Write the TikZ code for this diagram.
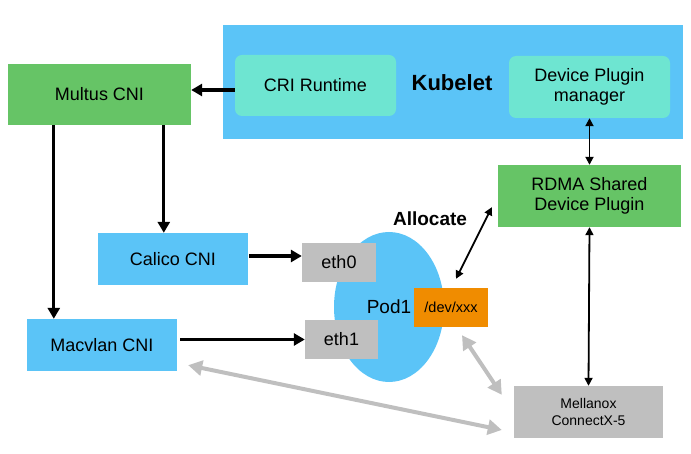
\documentclass[tikz,border=0pt]{standalone}
\usepackage{fontspec}
\setmainfont{Liberation Sans}
\usetikzlibrary{arrows.meta, calc, shapes.geometric}

\definecolor{kubeblue}{HTML}{5BC4F7}
\definecolor{kubeteal}{HTML}{6EE5D1}
\definecolor{cnigreen}{HTML}{66C466}
\definecolor{nicgray}{HTML}{BFBFBF}
\definecolor{devorange}{HTML}{F08C00}

\begin{document}
\begin{tikzpicture}[
        x=1pt, y=-1pt,
        box/.style={rectangle, inner sep=0pt, align=center, font=\fontsize{18}{20}\selectfont},
        flow/.style={line width=3.2pt, -{Triangle[length=11pt, width=12pt]}},
        link/.style={line width=1.8pt, {Triangle[length=8pt, width=8pt]}-{Triangle[length=8pt, width=8pt]}},
        hw/.style={line width=4pt, draw=nicgray, {Triangle[length=14pt, width=15pt]}-{Triangle[length=14pt, width=15pt]}},
    ]

    \useasboundingbox (0, 0) rectangle (691, 454);

    % kubelet and its parts
    \node[box, fill=kubeblue, minimum width=460pt, minimum height=114pt] (kubelet) at (453, 82) {};
    \node[box, fill=kubeteal, rounded corners=7pt, minimum width=161pt, minimum height=61pt] (cri) at (315.5, 85.5) {CRI Runtime};
    \node[box, fill=kubeteal, rounded corners=7pt, minimum width=161pt, minimum height=62pt] (dpm) at (589.5, 87) {Device Plugin\\manager};
    \node[font=\fontsize{22}{24}\selectfont\bfseries] (kubeletlabel) at (452, 83) {Kubelet};

    % cni plugins
    \node[box, fill=cnigreen, minimum width=183pt, minimum height=61pt] (multus) at (99.5, 94.5) {Multus CNI};
    \node[box, fill=kubeblue, minimum width=150pt, minimum height=52pt] (calico) at (173, 259) {Calico CNI};
    \node[box, fill=kubeblue, minimum width=150pt, minimum height=52pt] (macvlan) at (102, 345) {Macvlan CNI};

    % pod
    \node[ellipse, fill=kubeblue, inner sep=0pt, minimum width=110pt, minimum height=150pt,
        font=\fontsize{19}{20}\selectfont] (pod1) at (389, 307) {Pod1};
    \node[box, fill=nicgray, minimum width=74pt, minimum height=39pt] (eth0) at (339, 262.5) {eth0};
    \node[box, fill=nicgray, minimum width=73pt, minimum height=39pt] (eth1) at (341.5, 339.5) {eth1};
    \node[box, fill=devorange, minimum width=74pt, minimum height=39pt, font=\fontsize{14.5}{16}\selectfont] (dev) at (451, 307.5) {/dev/xxx};
    \node[font=\fontsize{19}{20}\selectfont\bfseries] (allocate) at (430, 219) {Allocate};

    % device plugin and nic
    \node[box, fill=cnigreen, minimum width=183pt, minimum height=62pt] (rdma) at (589.5, 196) {RDMA Shared\\Device Plugin};
    \node[box, fill=nicgray, minimum width=149pt, minimum height=52pt, font=\fontsize{14}{16.5}\selectfont] (nic) at (588.5, 412) {Mellanox\\ConnectX-5};

    \draw[flow] ([yshift=-4.5pt]cri.west) -- ([yshift=-4.5pt]cri.west -| multus.east);
    \draw[flow] ([xshift=46pt]multus.south west) -- ([xshift=46pt]multus.south west |- macvlan.north);
    \draw[flow] ([xshift=156pt]multus.south west) -- ([xshift=156pt]multus.south west |- calico.north);
    \draw[flow] ([xshift=1pt, yshift=3pt]calico.east) -- ([yshift=3pt]calico.east -| eth0.west);
    \draw[flow] ([xshift=3pt]macvlan.east |- eth1.west) -- (eth1.west);

    \draw[link] (dpm.south) -- (rdma.north);
    \draw[link] (rdma.south) -- (nic.north);
    \draw[link] ([xshift=5pt, yshift=9pt]dev.north) -- ([xshift=-6pt, yshift=20pt]rdma.south west);

    \draw[hw] ([xshift=11pt, yshift=-8pt]dev.south) -- ([xshift=-12pt, yshift=-9pt]nic.north west);
    \draw[hw] ([xshift=11pt, yshift=6pt]macvlan.south east) -- ([xshift=-12pt, yshift=-18pt]nic.west);
\end{tikzpicture}
\end{document}
